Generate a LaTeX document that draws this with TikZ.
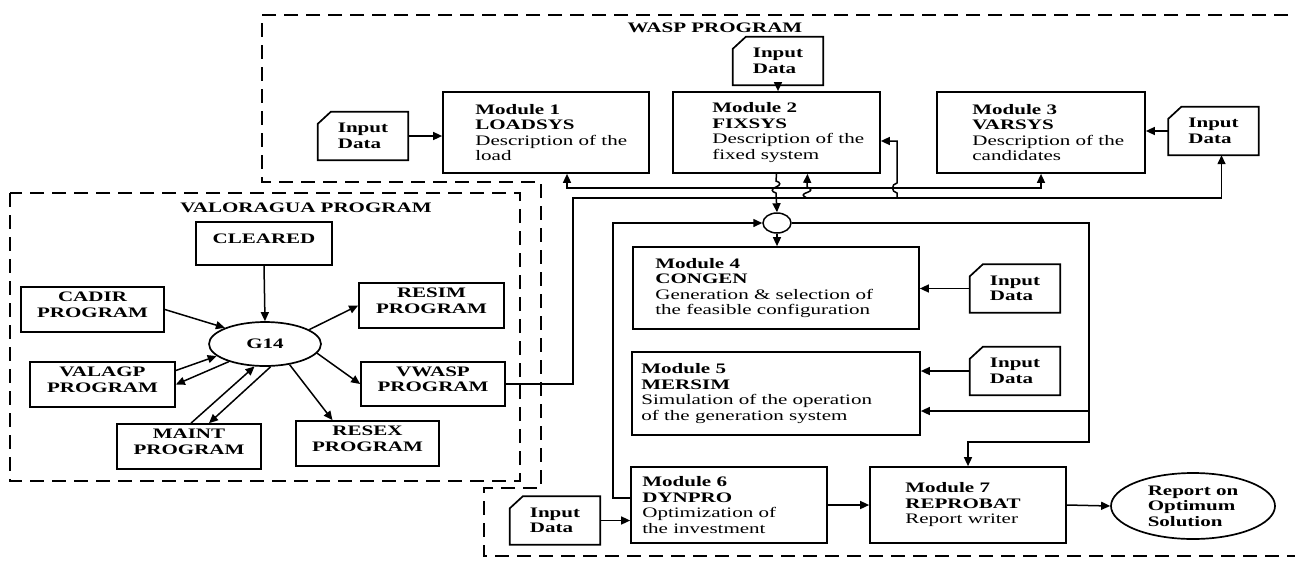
\documentclass[tikz,border=0pt]{standalone}
\usepackage{fontspec}
\setmainfont{Liberation Serif}[FakeStretch=1.45]
\usetikzlibrary{arrows.meta,shapes.geometric,fit}
\newcommand\fs{\fontsize{14.5pt}{15.5pt}\selectfont}
\tikzset{
  every node/.style={font=\fs},
  box/.style={draw, line width=1.7pt, inner sep=0pt},
  prog/.style={box, align=left, font=\fs\bfseries},
  modtext/.style={align=left, inner sep=0pt, anchor=west},
  indata/.style={minimum width=90pt, minimum height=48pt, inner sep=0pt, align=left, font=\fs\bfseries},
  conn/.style={line width=1.5pt},
  arr/.style={conn, -{Triangle[length=9pt,width=8pt]}},
  barr/.style={conn, {Triangle[length=9pt,width=8pt]}-{Triangle[length=9pt,width=8pt]}},
  dashbound/.style={line width=1.5pt, dash pattern=on 14pt off 8pt},
}
\newcommand\indatabox[3]{%
  \node[indata] (#1) at (#2,#3) {Input\\Data};
  \draw[box] ([yshift=-12pt]#1.north west) -- ([xshift=13pt]#1.north west) -- (#1.north east) -- (#1.south east) -- (#1.south west) -- cycle;}
\begin{document}
\begin{tikzpicture}[x=1pt,y=-1pt]
\useasboundingbox (0,0) rectangle (1295,560);
% boundaries
\draw[dashbound] (1310,15) -- (262,15) -- (262,182) -- (541,182) -- (541,488) -- (484,488) -- (484,556) -- (1310,556);
\draw[dashbound] (10,193) rectangle (520,481);
\node[font=\fs\bfseries, anchor=base] (wasptitle) at (715,32) {WASP PROGRAM};
\node[font=\fs\bfseries, anchor=base] (valtitle) at (306,212) {VALORAGUA PROGRAM};
% VALORAGUA
\node[prog, fit={(196,222) (332,265)}] (cleared) {CLEARED};
\node[prog, fit={(21,287) (164,332)}] (cadir) {CADIR\\PROGRAM};
\node[prog, fit={(359,283) (504,328)}] (resim) {RESIM\\PROGRAM};
\node[prog, fit={(30,362) (175,407)}] (valagp) {VALAGP\\PROGRAM};
\node[prog, fit={(361,362) (505,406)}] (vwasp) {VWASP\\PROGRAM};
\node[prog, fit={(117,424) (261,469)}] (maint) {MAINT\\PROGRAM};
\node[prog, fit={(296,421) (439,466)}] (resex) {RESEX\\PROGRAM};
\node[draw, ellipse, line width=1.7pt, minimum width=112pt, minimum height=44pt, inner sep=0pt, font=\fs\bfseries] (g14) at (265,344) {G14};
\draw[arr] (cleared.south) -- (g14.north);
\draw[arr] (cadir.east) -- (g14.158);
\draw[arr] (g14.18) -- (resim.west);
\draw[arr] (g14.-10) -- (vwasp.west);
\draw[arr] ([yshift=14pt]valagp.east) -- (g14.194);
\draw[arr] (g14.206) -- (valagp.east);
\draw[arr] ([xshift=2pt]maint.north) -- (g14.245);
\draw[arr] (g14.284) -- ([xshift=20pt]maint.north);
\draw[arr] (g14.320) -- ([xshift=-35pt]resex.north);
% WASP modules
\node[box, fit={(443,92) (649,173)}] (m1) {};
\node[modtext] (m1t) at ([xshift=33pt]m1.west) {\textbf{Module 1}\\\textbf{LOADSYS}\\Description of the\\load};
\node[box, fit={(673,92) (880,173)}] (m2) {};
\node[modtext] (m2t) at ([xshift=40pt]m2.west) {\textbf{Module 2}\\\textbf{FIXSYS}\\Description of the\\fixed system};
\node[box, fit={(937,92) (1145,173)}] (m3) {};
\node[modtext] (m3t) at ([xshift=36pt]m3.west) {\textbf{Module 3}\\\textbf{VARSYS}\\Description of the\\candidates};
\node[box, fit={(633,247) (919,329)}] (m4) {};
\node[modtext] (m4t) at ([xshift=23pt]m4.west) {\textbf{Module 4}\\\textbf{CONGEN}\\Generation \& selection of\\the feasible configuration};
\node[box, fit={(632,352) (920,435)}] (m5) {};
\node[modtext] (m5t) at ([xshift=10pt]m5.west) {\textbf{Module 5}\\\textbf{MERSIM}\\Simulation of the operation\\of the generation system};
\node[box, fit={(631,467) (827,543)}] (m6) {};
\node[modtext] (m6t) at ([xshift=12pt]m6.west) {\textbf{Module 6}\\\textbf{DYNPRO}\\Optimization of\\the investment};
\node[box, fit={(870,467) (1066,543)}] (m7) {};
\node[modtext] (m7t) at ([xshift=36pt]m7.west) {\textbf{Module 7}\\\textbf{REPROBAT}\\Report writer};
\node[draw, ellipse, line width=1.7pt, minimum width=164pt, minimum height=66pt, inner sep=0pt, align=left, font=\fs\bfseries] (rep) at (1193,506) {Report on\\Optimum\\Solution};
\node[draw, ellipse, line width=1.5pt, minimum width=28pt, minimum height=20pt, inner sep=0pt] (jn) at (777,223) {};
% input data
\indatabox{in1}{363}{136}
\indatabox{in2}{778}{61}
\indatabox{in3}{1213.5}{131}
\indatabox{in4}{1015}{288.5}
\indatabox{in5}{1015}{371}
\indatabox{in6}{555}{520.5}
\draw[arr] (in1.east) -- (in1.east -| m1.west);
\draw[arr] (in2.south) -- (in2.south |- m2.north);
\draw[arr] (in3.west) -- (in3.west -| m3.east);
\draw[arr] (in4.west) -- (in4.west -| m4.east);
\draw[arr] (in5.west) -- (in5.west -| m5.east);
\draw[arr] (in6.east) -- (in6.east -| m6.west);
% bus to modules 1 and 3
\draw[barr] ([xshift=21pt]m1.south) -- ++(0,14) -| (m3.south);
% VWASP line
\coordinate (vc) at (573,198);
\draw[arr] (vwasp.east) -| (vc) -| ([xshift=8pt]in3.south);
% up to module 2 bottom
\draw[arr] (807,198) .. controls (802,196) and (802,194) .. (807,192.5) .. controls (812,191) and (812,189) .. (807,187) -- ([xshift=31pt]m2.south);
% up to module 2 right
\coordinate (h2) at (897,141);
\draw[arr] (897,198) -- (897,193) .. controls (891,192) and (891,184) .. (897,183) -- (h2) -- (h2 -| m2.east);
% module 2 down to junction
\draw[arr] (m2.south) -- (776,181) .. controls (781,182.5) and (781,185) .. (776,187) .. controls (771,189) and (771,191.5) .. (776,193) -- (jn.north);
\draw[arr] (jn.south) -- (jn.south |- m4.north);
% trunk
\coordinate (t1) at (1089,223);
\coordinate (t2) at (1089,442);
\coordinate (t5) at (1089,411);
\draw[arr] (jn.east) -- (t1) -- (t2) -| (m7.north);
\draw[arr] (t5) -- (t5 -| m5.east);
% loop from module 6
\draw[arr] ([yshift=7pt]m6.west) -- ++(-17,0) |- (jn.west);
\draw[arr] (m6.east) -- (m7.west);
\draw[arr] (m7.east) -- (rep.west);
\end{tikzpicture}
\end{document}
